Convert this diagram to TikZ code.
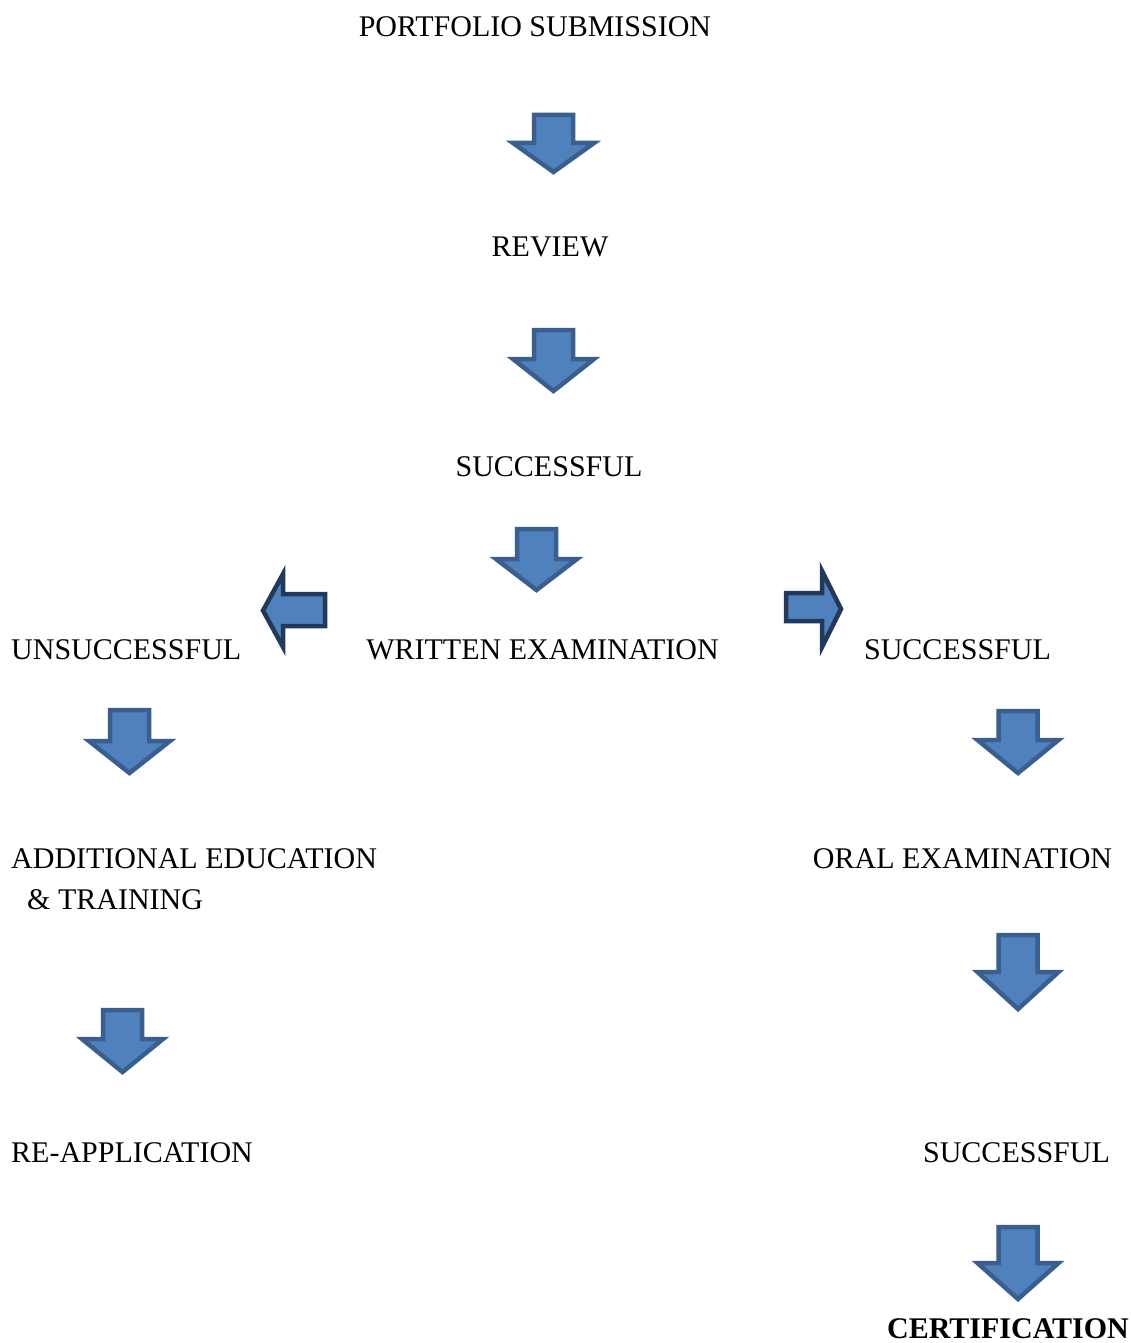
\documentclass[tikz,border=0pt]{standalone}
\usepackage{fontspec}
\setmainfont{Liberation Serif}
\definecolor{arrfill}{HTML}{4F81BD}
\definecolor{arrline}{HTML}{3A5F8F}
\definecolor{sideline}{HTML}{22395C}
\tikzset{
  lbl/.style={font=\fontsize{30}{36}\selectfont, inner sep=0pt, anchor=base},
  lbll/.style={lbl, anchor=base west},
  dnshape/.style={fill=arrfill, draw=arrline, line width=4.5pt, line join=miter},
  sideshape/.style={fill=arrfill, draw=sideline, line width=4.5pt, line join=miter}
}
% #1 centre x, #2 top, #3 head top, #4 tip
\newcommand\dnarrow[4]{%
  \draw[dnshape] ({#1-19.5},#2) -- ({#1+19.5},#2) -- ({#1+19.5},#3) -- ({#1+40.5},#3)
    -- (#1,#4) -- ({#1-40.5},#3) -- ({#1-19.5},#3) -- cycle;}
\begin{document}
\begin{tikzpicture}[x=1pt,y=-1pt]
\useasboundingbox[fill=white] (0,0) rectangle (1130,1343);
% labels
\node[lbl] (port) at (535,37) {PORTFOLIO SUBMISSION};
\node[lbl] (rev) at (550,256) {REVIEW};
\node[lbl] (succ1) at (549,476) {SUCCESSFUL};
\node[lbll] (unsucc) at (11,659) {UNSUCCESSFUL};
\node[lbl] (written) at (542.5,659) {WRITTEN EXAMINATION};
\node[lbl] (succ2) at (957.5,659) {SUCCESSFUL};
\node[lbll] (addl) at (11,868) {ADDITIONAL EDUCATION};
\node[lbll] (train) at (27,909) {\& TRAINING};
\node[lbl] (oral) at (962.5,868) {ORAL EXAMINATION};
\node[lbll] (reapp) at (11,1162) {RE-APPLICATION};
\node[lbl] (succ3) at (1016.5,1162) {SUCCESSFUL};
\node[lbl, font=\fontsize{30}{36}\selectfont\bfseries] (cert) at (1008,1338) {CERTIFICATION};
% down arrows
\dnarrow{553.5}{115}{143}{172}
\dnarrow{553.5}{330}{359}{391}
\dnarrow{536.5}{529}{559}{590}
\dnarrow{129.5}{710}{741}{773}
\dnarrow{1018}{711}{740}{773}
\dnarrow{122.5}{1010}{1039}{1072}
\dnarrow{1018}{935}{972}{1009}
\dnarrow{1018}{1227}{1263}{1299}
% side arrows
\draw[sideshape] (325,594) -- (325,626) -- (283,626) -- (283,647) -- (263,610.5)
  -- (283,574) -- (283,594) -- cycle;
\draw[sideshape] (786,593) -- (822,593) -- (822,571) -- (841,609) -- (822,647)
  -- (822,621) -- (786,621) -- cycle;
\end{tikzpicture}
\end{document}
